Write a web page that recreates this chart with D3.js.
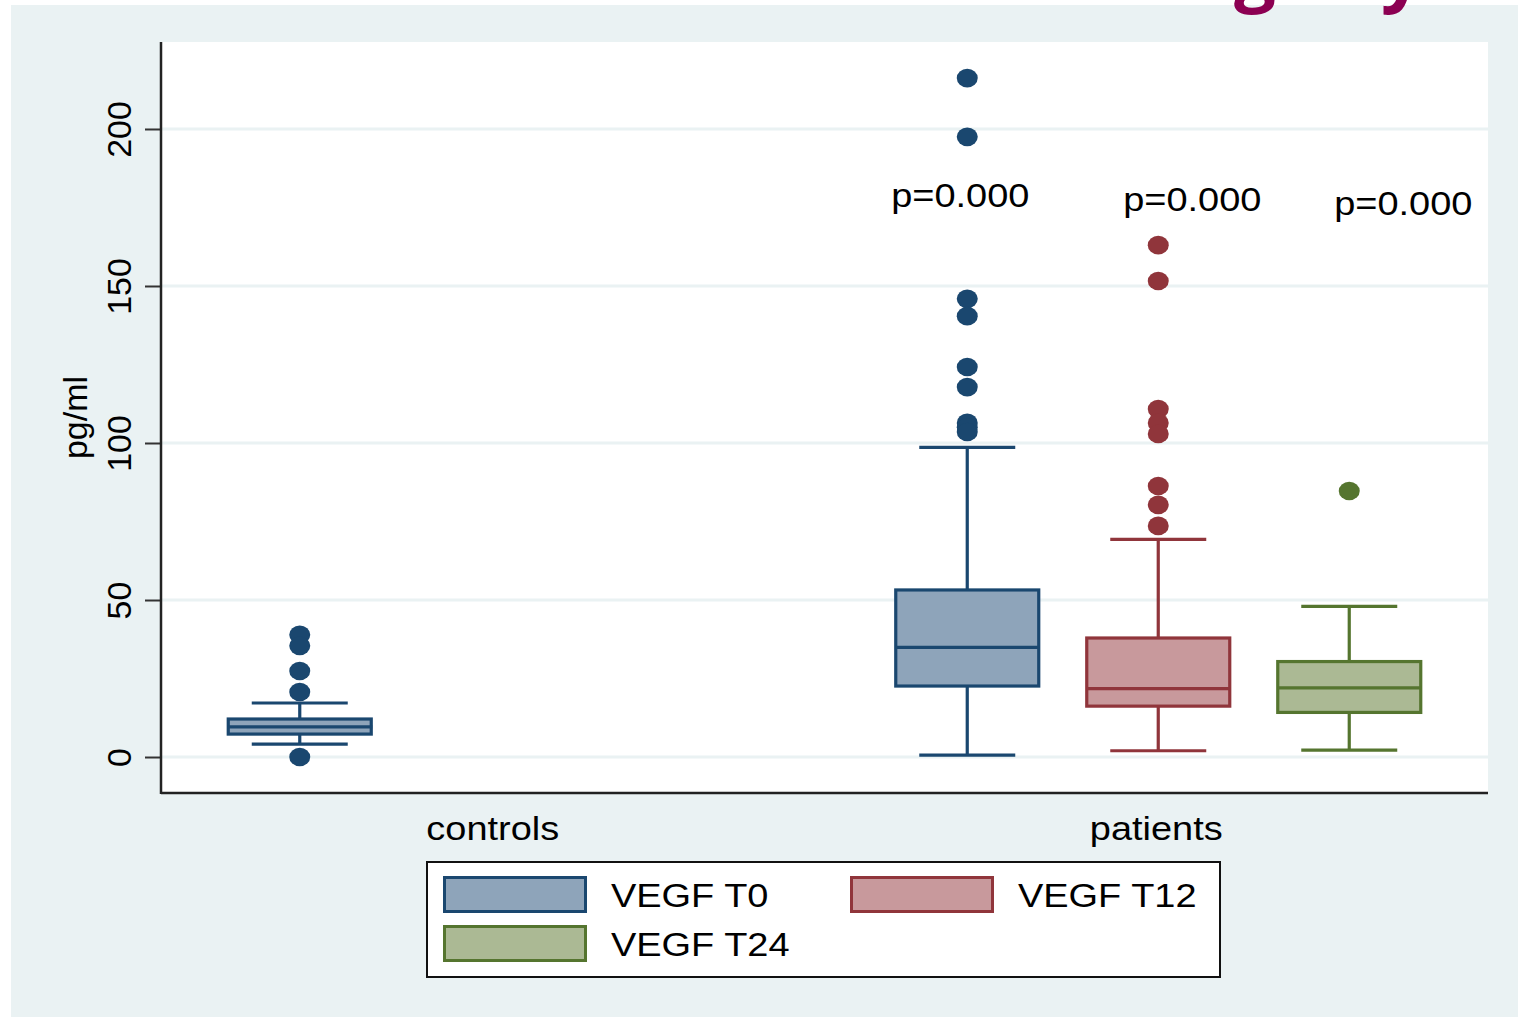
<!DOCTYPE html>
<html lang="en">
<head>
<meta charset="utf-8">
<title>VEGF box plot</title>
<script src="https://cdn.jsdelivr.net/npm/d3@7"></script>
<style>
  body { margin: 0; background: #ffffff; }
  svg text { font-family: "Liberation Sans", Arial, sans-serif; fill: #000; }
</style>
</head>
<body>
<svg id="chart" width="1518" height="1017"></svg>
<script>
// categories and series
var categories = ["controls", "patients"];
var series = ["VEGF T0", "VEGF T12", "VEGF T24"];

// one entry per box
var boxCategory = ["controls", "patients", "patients", "patients"];
var boxSeries   = ["VEGF T0", "VEGF T0", "VEGF T12", "VEGF T24"];
var whiskerLow  = [4.1, 0.6, 2.0, 2.2];
var quart1      = [7.3, 22.6, 16.2, 14.2];
var medians     = [9.6, 34.9, 21.8, 22.0];
var quart3      = [12.1, 53.2, 37.9, 30.4];
var whiskerHigh = [17.2, 98.6, 69.3, 48.0];
var outliers = [
  [38.9, 35.4, 27.4, 20.7, 0],
  [216.2, 197.5, 145.9, 140.4, 124.2, 117.8, 106.4, 105.0, 103.5],
  [163.0, 151.6, 110.8, 106.4, 102.9, 86.3, 80.3, 73.6],
  [84.7]
];

// p-value annotations over the patient boxes
var pLabels = ["p=0.000", "p=0.000", "p=0.000"];
var pLabelValue = [175.3, 173.9, 172.6];

var yTicks = [0, 50, 100, 150, 200];

var strokeColors = { "VEGF T0": "#1a476f", "VEGF T12": "#90353b", "VEGF T24": "#55752f" };
var fillColors   = { "VEGF T0": "#8ea4ba", "VEGF T12": "#c8999c", "VEGF T24": "#abb994" };

var svg = d3.select("#chart");
var W = 1518, H = 1017;
// plot area edges (don't call these "top" - clashes with window.top)
var pLeft = 161, pRight = 1488, pTop = 42, pBottom = 793;
var stretch = 1.15; // picture is a bit wider than tall

// backgrounds
svg.append("rect").attr("x", 11).attr("y", 5).attr("width", W - 11).attr("height", H - 5)
  .attr("fill", "#eaf2f3");
svg.append("rect").attr("x", pLeft).attr("y", pTop).attr("width", pRight - pLeft).attr("height", pBottom - pTop)
  .attr("fill", "#ffffff");

// cut off slide title (only descenders visible)
var title = svg.append("text")
  .attr("y", -3)
  .style("font-family", "'Open Sans', 'DejaVu Sans', sans-serif")
  .style("font-weight", "bold")
  .style("font-size", "74px")
  .style("fill", "#8c0052");
title.append("tspan").attr("x", 1234).text("g");
title.append("tspan").attr("x", 1381).text("y");

// scales
var y = d3.scaleLinear().domain([-11.46, 227.7]).range([pBottom, pTop]);
var x = d3.scaleBand().domain(categories).range([pLeft, pRight]);
var xSub = d3.scalePoint().domain(series).range([-189, 193]);
var boxW = 143, capW = 96;

function cx(i) {
  var c = x(boxCategory[i]) + x.bandwidth() / 2;
  if (boxCategory[i] === "controls") return c - 193;
  return c + xSub(boxSeries[i]);
}

// gridlines
svg.append("g").selectAll("line")
  .data(yTicks).enter().append("line")
  .attr("x1", pLeft + 1).attr("x2", pRight)
  .attr("y1", function(d) { return y(d); })
  .attr("y2", function(d) { return y(d); })
  .attr("stroke", "#eaf2f3").attr("stroke-width", 3);

// y axis
var yAxis = d3.axisLeft(y).tickValues(yTicks).tickSize(16).tickFormat(d3.format("d"));
var gy = svg.append("g").attr("transform", "translate(" + pLeft + ",0)").call(yAxis);
gy.select(".domain").remove();
gy.selectAll(".tick line").attr("stroke", "#333").attr("stroke-width", 2);
gy.selectAll(".tick text")
  .attr("x", 0).attr("y", 0).attr("dy", 0)
  .attr("transform", "translate(-30,0) rotate(-90)")
  .attr("text-anchor", "middle")
  .style("font-size", "34px")
  .style("font-family", "'Liberation Sans', Arial, sans-serif")
  .style("fill", "#000");

svg.append("line").attr("x1", pLeft).attr("x2", pLeft).attr("y1", pTop).attr("y2", pBottom + 1)
  .attr("stroke", "#222").attr("stroke-width", 2.5);
svg.append("line").attr("x1", pLeft).attr("x2", pRight).attr("y1", pBottom).attr("y2", pBottom)
  .attr("stroke", "#222").attr("stroke-width", 2.5);

// y title
svg.append("text")
  .attr("transform", "translate(87," + ((pTop + pBottom) / 2) + ") rotate(-90)")
  .attr("text-anchor", "middle")
  .style("font-size", "34px")
  .text("pg/ml");

// category labels
svg.append("g").selectAll("text")
  .data(categories).enter().append("text")
  .attr("transform", function(d) {
    return "translate(" + (x(d) + x.bandwidth() / 2) + ",840) scale(" + stretch + ",1)";
  })
  .attr("text-anchor", "middle")
  .style("font-size", "33px")
  .text(function(d) { return d; });

// boxes
var idx = d3.range(boxSeries.length);
var boxes = svg.append("g").selectAll("g")
  .data(idx).enter().append("g");

boxes.append("line")
  .attr("x1", cx).attr("x2", cx)
  .attr("y1", function(i) { return y(quart3[i]); })
  .attr("y2", function(i) { return y(whiskerHigh[i]); });
boxes.append("line")
  .attr("x1", cx).attr("x2", cx)
  .attr("y1", function(i) { return y(quart1[i]); })
  .attr("y2", function(i) { return y(whiskerLow[i]); });
boxes.append("line")
  .attr("x1", function(i) { return cx(i) - capW / 2; })
  .attr("x2", function(i) { return cx(i) + capW / 2; })
  .attr("y1", function(i) { return y(whiskerHigh[i]); })
  .attr("y2", function(i) { return y(whiskerHigh[i]); });
boxes.append("line")
  .attr("x1", function(i) { return cx(i) - capW / 2; })
  .attr("x2", function(i) { return cx(i) + capW / 2; })
  .attr("y1", function(i) { return y(whiskerLow[i]); })
  .attr("y2", function(i) { return y(whiskerLow[i]); });
boxes.append("rect")
  .attr("x", function(i) { return cx(i) - boxW / 2; })
  .attr("y", function(i) { return y(quart3[i]); })
  .attr("width", boxW)
  .attr("height", function(i) { return y(quart1[i]) - y(quart3[i]); })
  .attr("fill", function(i) { return fillColors[boxSeries[i]]; });
boxes.append("line")
  .attr("x1", function(i) { return cx(i) - boxW / 2; })
  .attr("x2", function(i) { return cx(i) + boxW / 2 + 1; })
  .attr("y1", function(i) { return y(medians[i]); })
  .attr("y2", function(i) { return y(medians[i]); });
boxes.selectAll("line, rect")
  .attr("stroke", function() { return strokeColors[boxSeries[d3.select(this.parentNode).datum()]]; })
  .attr("stroke-width", 3.2);

// outlier markers
boxes.each(function(i) {
  d3.select(this).selectAll("ellipse")
    .data(outliers[i]).enter().append("ellipse")
    .attr("cx", cx(i))
    .attr("cy", function(v) { return y(v); })
    .attr("rx", 10.5).attr("ry", 9.3)
    .attr("fill", strokeColors[boxSeries[i]]);
});

// p-value labels
var pOffsets = [-7, 34, 54];
svg.append("g").selectAll("text")
  .data(pLabels).enter().append("text")
  .attr("transform", function(d, j) {
    var c = x("patients") + x.bandwidth() / 2 + xSub(series[j]) + pOffsets[j];
    return "translate(" + c + "," + y(pLabelValue[j]) + ") scale(" + stretch + ",1)";
  })
  .attr("text-anchor", "middle")
  .style("font-size", "33px")
  .text(function(d) { return d; });

// legend
var legend = svg.append("g");
legend.append("rect").attr("x", 427).attr("y", 862).attr("width", 793).attr("height", 115)
  .attr("fill", "#fff").attr("stroke", "#111").attr("stroke-width", 2);
var legX = [443, 850, 443], legY = [876, 876, 925];
var items = legend.selectAll("g.item").data(series).enter().append("g").attr("class", "item");
items.append("rect")
  .attr("x", function(d, j) { return legX[j] + 1.5; })
  .attr("y", function(d, j) { return legY[j] + 1.5; })
  .attr("width", 141).attr("height", 34)
  .attr("fill", function(d) { return fillColors[d]; })
  .attr("stroke", function(d) { return strokeColors[d]; })
  .attr("stroke-width", 3);
items.append("text")
  .attr("transform", function(d, j) {
    return "translate(" + (legX[j] + 168) + "," + (legY[j] + 31) + ") scale(" + stretch + ",1)";
  })
  .style("font-size", "33px")
  .text(function(d) { return d; });
</script>
</body>
</html>
